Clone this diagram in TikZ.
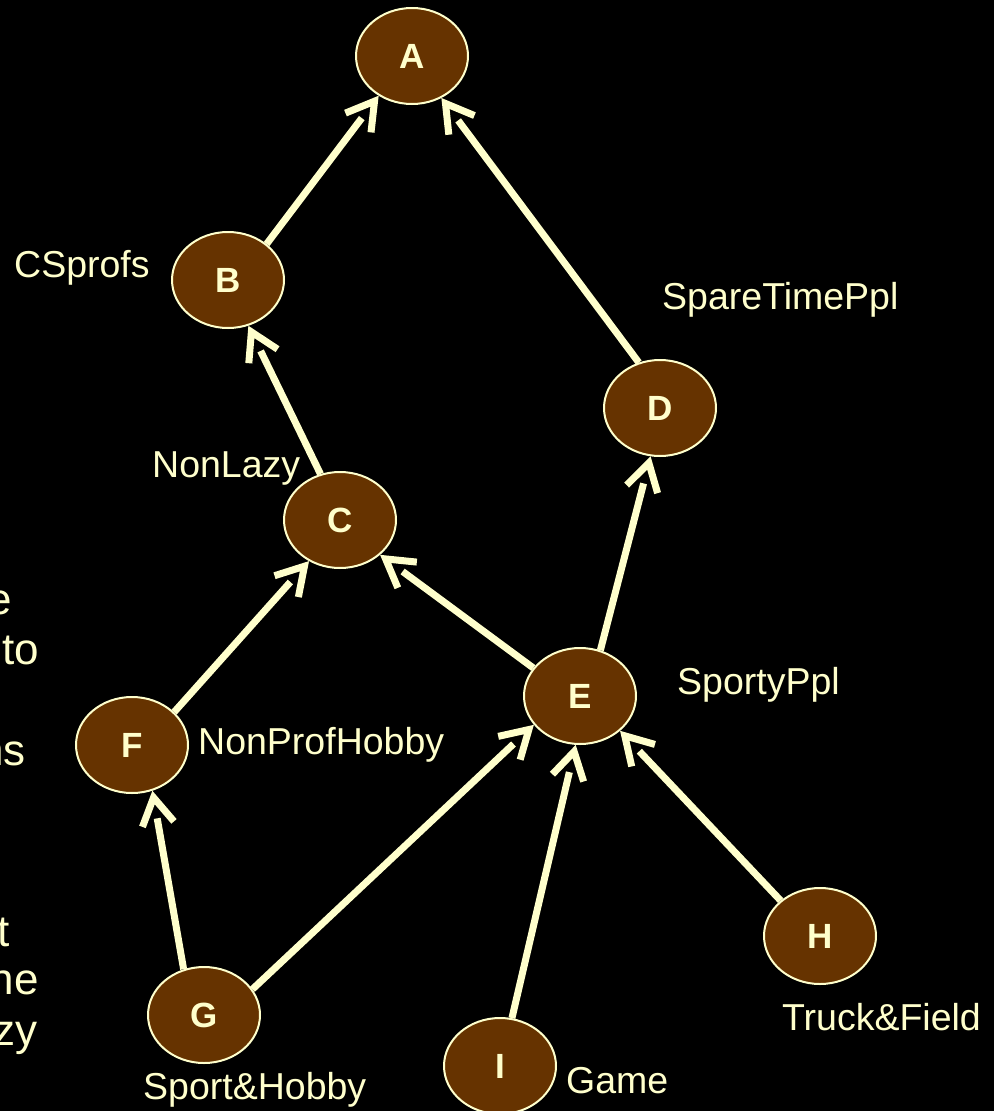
\documentclass[tikz,border=0pt]{standalone}
\usepackage{fontspec}
\setmainfont{Liberation Sans}
\usetikzlibrary{arrows.meta,shapes.geometric,decorations.markings}
\definecolor{cream}{HTML}{FFFFCC}
\definecolor{brownfill}{HTML}{663300}
\begin{document}
\begin{tikzpicture}[x=1pt,y=-1pt,
  concept/.style={ellipse, draw=cream, line width=2pt, fill=brownfill,
    minimum width=112pt, minimum height=96pt, inner sep=0pt,
    text=cream, font=\fontsize{35}{40}\selectfont\bfseries},
  lbl/.style={text=cream, inner sep=0pt, anchor=base west, font=\fontsize{37.5}{44}\selectfont},
  frag/.style={text=cream, inner sep=0pt, anchor=base east, font=\fontsize{44}{50}\selectfont},
  edge/.style={draw=cream, line width=7pt, shorten >=28pt,
    postaction={decorate, decoration={markings,
      mark=at position 1 with {\arrow[cream, line width=7pt]{Straight Barb[length=27pt,width=32pt]}}}}}
]
\fill[black] (0,0) rectangle (994,1111);
\useasboundingbox (0,0) rectangle (994,1111);

\node[concept] (A) at (412,56) {A};
\node[concept] (B) at (228,280) {B};
\node[concept] (C) at (340,520) {C};
\node[concept] (D) at (660,408) {D};
\node[concept] (E) at (580,696) {E};
\node[concept] (F) at (132,745) {F};
\node[concept] (G) at (204,1015) {G};
\node[concept] (H) at (820,936) {H};
\node[concept] (I) at (500,1066) {I};

\draw[edge] (B.43) -- (A.230);
\draw[edge] (D.115) -- (A.305);
\draw[edge] (C.113) -- (B.294);
\draw[edge] (E.66) -- (D.259);
\draw[edge] (E.149) -- (C.319);
\draw[edge] (F.38) -- (C.233);
\draw[edge] (G.114) -- (F.294);
\draw[edge] (G.28) -- (E.212);
\draw[edge] (I.76) -- (E.265);
\draw[edge] (H.138) -- (E.319);

\node[lbl] (lB) at (14,277) {CSprofs};
\node[lbl] (lD) at (662,309) {SpareTimePpl};
\node[lbl] (lC) at (152,477) {NonLazy};
\node[lbl] (lE) at (677,694) {SportyPpl};
\node[lbl] (lF) at (198,754) {NonProfHobby};
\node[lbl] (lH) at (782,1030) {Truck\&Field};
\node[lbl] (lG) at (143,1099) {Sport\&Hobby};
\node[lbl] (lI) at (566,1093) {Game};

\node[frag] (f1) at (12,614) {e};
\node[frag] (f2) at (39,664) {to};
\node[frag] (f3) at (26,765) {ns};
\node[frag] (f4) at (10,946) {t};
\node[frag] (f5) at (39,994) {ne};
\node[frag] (f6) at (38,1045) {zy};
\end{tikzpicture}
\end{document}
